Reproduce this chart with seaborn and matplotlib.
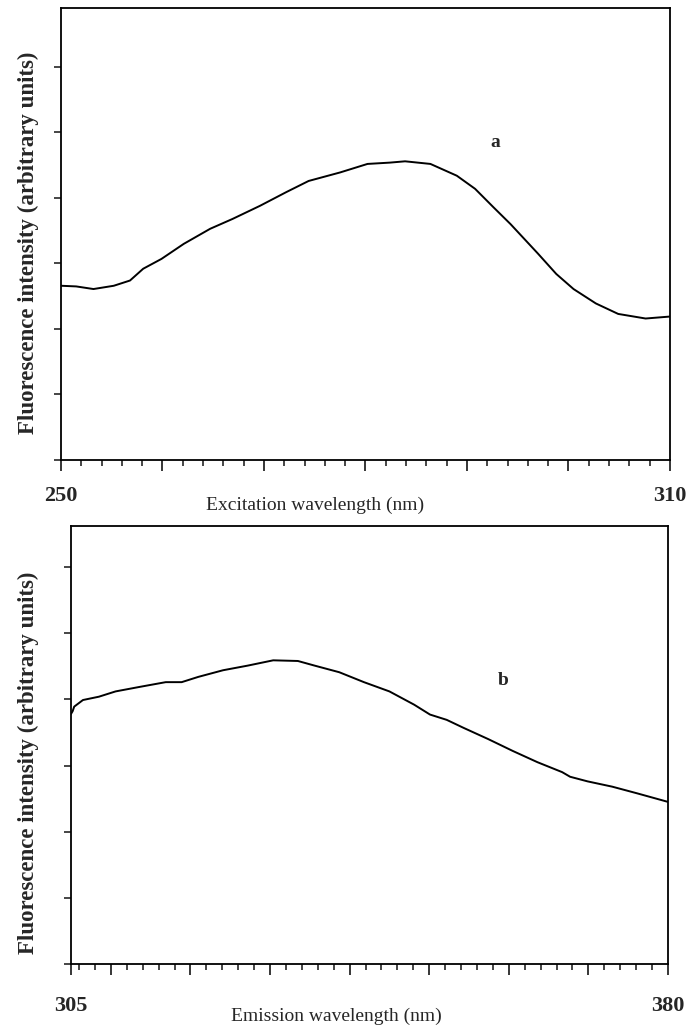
import numpy as np
import pandas as pd
import matplotlib.pyplot as plt
import seaborn as sns
from matplotlib.ticker import MultipleLocator, FixedLocator, FuncFormatter

sns.set_style("ticks")
plt.rcParams['font.family'] = ['Liberation Serif', 'DejaVu Serif']

# panel a - excitation spectrum
ex_wl = [250.0, 251.5, 253.2, 255.2, 256.8, 258.1, 259.9, 262.1, 264.7, 266.9, 269.6,
         272.2, 274.4, 277.5, 280.2, 282.4, 283.9, 286.4, 289.0, 290.8, 292.6, 294.3,
         297.0, 298.8, 300.5, 302.7, 304.9, 307.6, 310.0]
ex_int = [2.66, 2.65, 2.61, 2.66, 2.74, 2.92, 3.07, 3.30, 3.53, 3.68, 3.88,
          4.09, 4.26, 4.39, 4.52, 4.54, 4.56, 4.52, 4.34, 4.14, 3.86, 3.60,
          3.15, 2.84, 2.61, 2.39, 2.23, 2.16, 2.19]

# panel b - emission spectrum
em_wl = [305.0, 305.2, 305.4, 306.5, 308.5, 310.6, 313.7, 316.9, 318.9, 321.0, 324.1,
         327.2, 330.4, 333.5, 335.6, 338.7, 341.8, 345.0, 348.1, 350.1, 352.2, 354.3,
         357.4, 360.5, 363.6, 366.7, 367.7, 369.9, 373.0, 376.1, 380.0]
em_int = [3.78, 3.82, 3.89, 3.99, 4.04, 4.12, 4.19, 4.26, 4.26, 4.34, 4.44,
          4.51, 4.59, 4.58, 4.51, 4.41, 4.26, 4.12, 3.92, 3.77, 3.69, 3.57,
          3.40, 3.22, 3.05, 2.90, 2.83, 2.76, 2.68, 2.58, 2.45]

ex_labels = [250, 310]
em_labels = [305, 380]
ex_major = [250, 260, 270, 280, 290, 300, 310]
em_major = [305, 310, 320, 330, 340, 350, 360, 370, 380]

ylabel = "Fluorescence intensity (arbitrary units)"

fig = plt.figure(figsize=(6.97, 10.30), dpi=100)
ax1 = fig.add_axes([0.0875, 0.5534, 0.8737, 0.4388])
ax2 = fig.add_axes([0.1019, 0.0641, 0.8565, 0.4252])


def style_axes(ax, xlim, ylim, major, shown, pad):
    ax.set_xlim(*xlim)
    ax.set_ylim(*ylim)
    ax.xaxis.set_major_locator(FixedLocator(major))
    ax.xaxis.set_minor_locator(MultipleLocator(2))
    ax.xaxis.set_major_formatter(FuncFormatter(lambda v, p: f"{v:.0f}" if round(v) in shown else ""))
    ax.yaxis.set_major_locator(MultipleLocator(1))
    ax.set_yticklabels([])
    ax.tick_params(axis='x', which='major', direction='out', length=8, width=1.3,
                   pad=pad, labelsize=16)
    ax.tick_params(axis='x', which='minor', direction='out', length=4.5, width=1.2)
    ax.tick_params(axis='y', which='major', direction='out', length=5, width=1.2)
    for lab in ax.get_xticklabels():
        lab.set_fontweight('bold')
    for s in ax.spines.values():
        s.set_linewidth(1.3)
        s.set_color('black')


sns.lineplot(x=ex_wl, y=ex_int, ax=ax1, color='black', linewidth=1.4)
style_axes(ax1, (250, 310), (0, 6.9), ex_major, ex_labels, 11)
ax1.set_xlabel("Excitation wavelength (nm)", fontsize=14)
ax1.xaxis.set_label_coords(0.417, -0.082)
ax1.set_ylabel(ylabel, fontsize=16.5, fontweight='bold')
ax1.yaxis.set_label_coords(-0.036, 0.48)
ax1.text(292.8, 4.84, "a", fontsize=14, fontweight='bold', ha='center', va='center')

sns.lineplot(x=em_wl, y=em_int, ax=ax2, color='black', linewidth=1.4)
style_axes(ax2, (305, 380), (0, 6.62), em_major, em_labels, 15)
ax2.set_xlabel("Emission wavelength (nm)", fontsize=14)
ax2.xaxis.set_label_coords(0.444, -0.1)
ax2.set_ylabel(ylabel, fontsize=16.5, fontweight='bold')
ax2.yaxis.set_label_coords(-0.053, 0.46)
ax2.text(359.3, 4.29, "b", fontsize=14, fontweight='bold', ha='center', va='center')

fig.savefig("out.png", dpi=100)
